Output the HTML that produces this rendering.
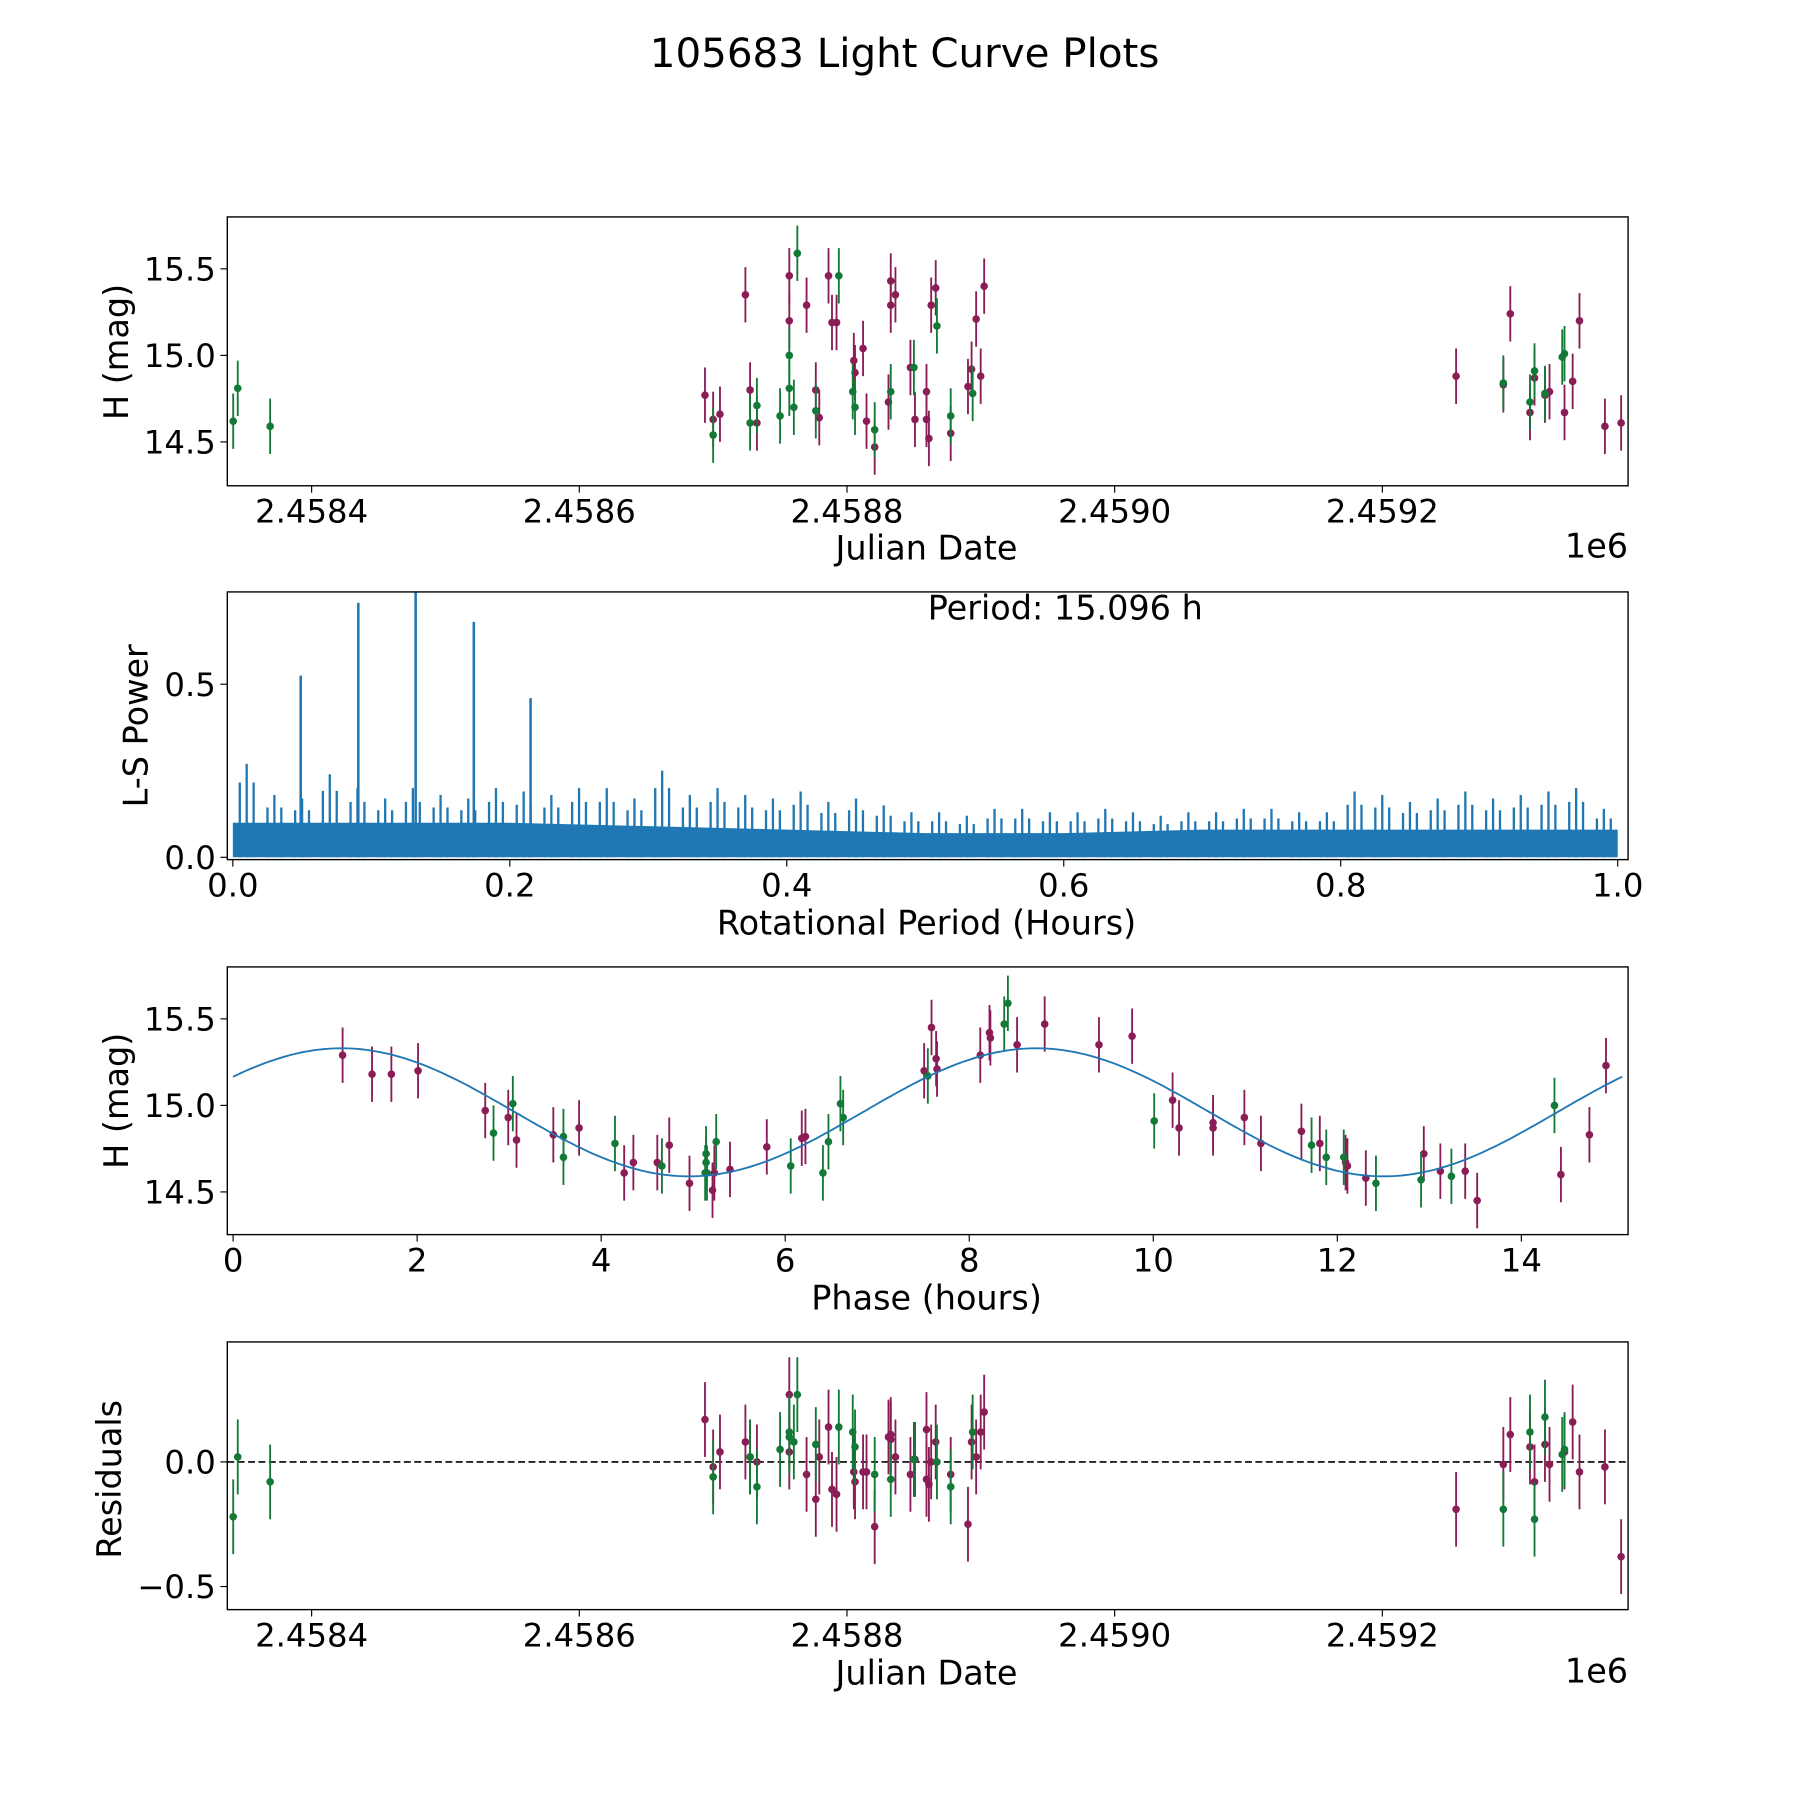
<!DOCTYPE html>
<html><head><meta charset="utf-8"><style>html,body{margin:0;padding:0;background:#fff}svg{display:block}text{font-family:"DejaVu Sans","Liberation Sans",sans-serif;fill:#000}</style></head>
<body>
<svg id="fig" xmlns="http://www.w3.org/2000/svg" width="1800" height="1800" viewBox="0 0 1560 1560">
<rect width="1560" height="1560" fill="#fff"/>
<text x="784" y="58" font-size="35" text-anchor="middle">105683 Light Curve Plots</text>
<g id="p1"></g>
<g id="p2"></g>
<g id="p3"></g>
<g id="p4"></g>
</svg>
<script>
// ---- data ----
const jdGreen=[341.4,344.8,369.0,700.0,727.6,732.7,750.0,756.9,756.9,760.3,762.9,776.7,793.9,804.3,806.0,820.7,832.7,850.0,867.2,877.5,893.9,1290.4,1310.3,1313.7,1321.5,1334.4,1336.1];
const magGreen=[14.62,14.81,14.59,14.54,14.61,14.71,14.65,15.0,14.81,14.70,15.59,14.68,15.46,14.79,14.70,14.57,14.79,14.93,15.17,14.65,14.78,14.84,14.73,14.91,14.78,14.99,15.01];
const resGreen=[-0.22,0.02,-0.08,-0.06,0.02,-0.10,0.05,0.10,0.12,0.08,0.27,0.07,0.14,0.12,0.06,-0.05,-0.07,0.01,0.0,-0.10,0.12,-0.19,0.12,-0.23,0.18,0.03,0.05];
const jdMag=[693.9,700.0,705.1,724.1,727.6,732.7,756.9,756.9,769.8,776.7,779.3,786.2,788.8,792.2,805.1,806.0,812.0,814.6,820.7,831.0,832.7,832.7,836.2,847.4,850.8,859.4,859.4,861.2,862.9,866.3,877.5,890.4,893.1,896.5,899.9,902.5,1255.1,1290.4,1295.6,1310.3,1313.7,1321.5,1324.9,1336.1,1342.2,1347.3,1366.3,1378.4];
const magMag=[14.77,14.63,14.66,15.35,14.80,14.61,15.46,15.20,15.29,14.80,14.64,15.46,15.19,15.19,14.97,14.90,15.04,14.62,14.47,14.73,15.43,15.29,15.35,14.93,14.63,14.79,14.63,14.52,15.29,15.39,14.55,14.82,14.92,15.21,14.88,15.40,14.88,14.83,15.24,14.67,14.87,14.77,14.79,14.67,14.85,15.20,14.59,14.61];
const resMag=[0.17,-0.02,0.04,0.08,0.02,0.0,0.27,0.04,-0.05,-0.15,0.02,0.14,-0.11,-0.13,-0.04,-0.08,-0.04,-0.04,-0.26,0.10,0.09,0.11,0.02,-0.05,0.01,0.13,-0.07,-0.09,0.0,0.08,-0.05,-0.25,0.08,0.02,0.12,0.20,-0.19,-0.01,0.11,0.06,-0.08,0.07,-0.01,0.04,0.16,-0.04,-0.02,-0.38];
const phMag=[1.19,1.51,1.72,2.01,2.74,2.99,3.08,3.48,3.76,4.25,4.35,4.61,4.74,4.96,5.21,5.23,5.40,5.80,6.18,6.22,7.51,7.59,7.64,7.65,8.12,8.22,8.23,8.52,8.82,9.41,9.77,10.21,10.28,10.65,10.65,10.99,11.17,11.61,11.81,12.09,12.11,12.31,12.94,13.12,13.39,13.52,14.43,14.74,14.92];
const phMagVal=[15.29,15.18,15.18,15.20,14.97,14.93,14.80,14.83,14.87,14.61,14.67,14.67,14.77,14.55,14.51,14.61,14.63,14.76,14.81,14.82,15.20,15.45,15.27,15.21,15.29,15.42,15.39,15.35,15.47,15.35,15.40,15.03,14.87,14.90,14.87,14.93,14.78,14.85,14.78,14.67,14.65,14.58,14.72,14.62,14.62,14.45,14.60,14.83,15.23];
const phGreen=[2.83,3.04,3.59,3.59,4.15,4.66,5.13,5.14,5.14,5.15,5.25,6.06,6.41,6.47,6.60,6.63,7.55,8.38,8.42,10.01,11.72,11.88,12.07,12.42,12.91,13.24,14.36];
const phGreenVal=[14.84,15.01,14.82,14.70,14.78,14.65,14.61,14.67,14.72,14.61,14.79,14.65,14.61,14.79,15.01,14.93,15.17,15.47,15.59,14.91,14.77,14.70,14.70,14.55,14.57,14.59,15.00];
const fitMean=14.96, fitAmp=0.37, fitHalfPeriod=7.548, fitPhase0=-0.707;
const lsPeakPeriods=[0.049,0.0906,0.132,0.174,0.215];
const lsPeakPowers=[0.525,0.735,0.78,0.68,0.46];
const lsBinMax=[0.27,0.18,0.17,0.24,0.2,0.17,0.2,0.18,0.17,0.2,0.19,0.18,0.2,0.2,0.17,0.25,0.18,0.2,0.18,0.17,0.19,0.16,0.17,0.15,0.13,0.13,0.12,0.14,0.14,0.13,0.13,0.14,0.13,0.12,0.13,0.13,0.14,0.14,0.13,0.13,0.19,0.18,0.16,0.17,0.19,0.17,0.18,0.19,0.2,0.14];
const lsBand=[0.1,0.1,0.1,0.09,0.08,0.07,0.07,0.08,0.08,0.08,0.08];
const jdTicks=[400,600,800,1000,1200];
const jdTickLabels=["2.4584","2.4586","2.4588","2.4590","2.4592"];
const magTicks=[14.5,15.0,15.5];
const magTickLabels=["14.5","15.0","15.5"];
const lsXTicks=[0,0.2,0.4,0.6,0.8,1.0];
const lsXTickLabels=["0.0","0.2","0.4","0.6","0.8","1.0"];
const lsYTicks=[0,0.5];
const lsYTickLabels=["0.0","0.5"];
const phTicks=[0,2,4,6,8,10,12,14];
const phTickLabels=["0","2","4","6","8","10","12","14"];
const resTicks=[0,-0.5];
const resTickLabels=["0.0","\u22120.5"];
const ERR=0.16, RERR=0.15;
const GREEN="#127a36", MAG="#8a1d56", BLUE="#1f77b4";
// ---- helpers ----
const NS="http://www.w3.org/2000/svg";
function mk(parent,tag,attrs){const e=document.createElementNS(NS,tag);for(const k in attrs)e.setAttribute(k,attrs[k]);parent.appendChild(e);return e;}
const L=197,R=1411;
function lin(d0,d1,r0,r1){return v=>r0+(v-d0)/(d1-d0)*(r1-r0);}
const xJD=lin(337,1383.6,L,R);
const xLS=lin(-0.004,1.0075,L,R);
const xPH=lin(-0.063,15.16,L,R);
const TF=28, LF=29;
function frame(g,top,bot){
  const r=mk(g,'rect',{x:L,y:top,width:R-L,height:bot-top,fill:'none',stroke:'#000','stroke-width':1.2});
  
  
}
function xticks(g,ticks,labels,sx,bot){
  ticks.forEach((t,i)=>{const x=sx(t);
    mk(g,'line',{x1:x,x2:x,y1:bot,y2:bot+6,stroke:'#000','stroke-width':1});
    const tx=mk(g,'text',{x:x,y:bot+32,'font-size':TF,'text-anchor':'middle'});tx.textContent=labels[i];
    
    
  });
}
function yticks(g,ticks,labels,sy){
  ticks.forEach((t,i)=>{const y=sy(t);
    mk(g,'line',{x1:L-6,x2:L,y1:y,y2:y,stroke:'#000','stroke-width':1});
    const tx=mk(g,'text',{x:L-10,y:y+10,'font-size':TF,'text-anchor':'end'});tx.textContent=labels[i];
    
    
  });
}
function label(g,txt,x,y,rot,name){
  const t=mk(g,'text',{x:x,y:y,'font-size':LF,'text-anchor':'middle'});
  if(rot)t.setAttribute('transform','rotate(-90 '+x+' '+y+')');
  t.textContent=txt;
  
  
}
function points(g,xs,ys,err,sx,sy,col,top,bot,name){
  const cg=mk(g,'g',{'clip-path':'url(#c'+top+')'});
  xs.forEach((xv,i)=>{const x=sx(xv),y=sy(ys[i]);
    mk(cg,'line',{x1:x,x2:x,y1:sy(ys[i]-err),y2:sy(ys[i]+err),stroke:col,'stroke-width':1.6});
    const c=mk(cg,'circle',{cx:x,cy:y,r:3.3,fill:col});
    
    
  });
}
const svg=document.getElementById('fig');
const defs=mk(svg,'defs',{});
[[188,421],[513,745],[838,1070],[1163,1395]].forEach(([t,b])=>{const cp=mk(defs,'clipPath',{id:'c'+t});mk(cp,'rect',{x:L,y:t,width:R-L,height:b-t});});
// ---- panel 1 ----
(function(){const g=document.getElementById('p1');const top=188,bot=421;const sy=lin(15.5,14.5,233,383);
  points(g,jdMag,magMag,ERR,xJD,sy,MAG,top,bot,'magenta-point');
  points(g,jdGreen,magGreen,ERR,xJD,sy,GREEN,top,bot,'green-point');
  frame(g,top,bot);xticks(g,jdTicks,jdTickLabels,xJD,bot);yticks(g,magTicks,magTickLabels,sy);
  label(g,'Julian Date',803,485,false,'x-axis-title');label(g,'H (mag)',111,305,true,'y-axis-title');
  const e=mk(g,'text',{x:R,y:483,'font-size':LF,'text-anchor':'end'});e.textContent='1e6';
  
  
})();
// ---- panel 2 ----
(function(){const g=document.getElementById('p2');const top=513,bot=745;const sy=lin(0,0.5,743,593);
  const cg=mk(g,'g',{'clip-path':'url(#c513)'});
  let d='M'+xLS(0)+' '+sy(0);
  lsBand.forEach((v,i)=>{d+=' L'+xLS(i*0.1)+' '+sy(v);});
  d+=' L'+xLS(1)+' '+sy(0)+' Z';
  const band=mk(cg,'path',{d:d,fill:BLUE});
  
  
  lsBinMax.forEach((v,i)=>{
    [0.25,0.5,0.75].forEach((f,j)=>{const x=xLS((i+f)*0.02);const vv=j===1?v:v*0.8;
      const ln=mk(cg,'line',{x1:x,x2:x,y1:sy(0),y2:sy(vv),stroke:BLUE,'stroke-width':2});
      
      });
  });
  lsPeakPeriods.forEach((p,i)=>{const x=xLS(p);
    const ln=mk(cg,'line',{x1:x,x2:x,y1:sy(0),y2:sy(lsPeakPowers[i]),stroke:BLUE,'stroke-width':2.2});
    
    });
  frame(g,top,bot);xticks(g,lsXTicks,lsXTickLabels,xLS,bot);yticks(g,lsYTicks,lsYTickLabels,sy);
  label(g,'Rotational Period (Hours)',803,810,false,'x-axis-title');label(g,'L-S Power',128,629,true,'y-axis-title');
  const t=mk(g,'text',{x:804,y:537,'font-size':LF});t.textContent='Period: 15.096 h';
  
  
})();
// ---- panel 3 ----
(function(){const g=document.getElementById('p3');const top=838,bot=1070;const sy=lin(15.5,14.5,883,1033);
  points(g,phMag,phMagVal,ERR,xPH,sy,MAG,top,bot,'magenta-point');
  points(g,phGreen,phGreenVal,ERR,xPH,sy,GREEN,top,bot,'green-point');
  let d='';for(let k=0;k<=300;k++){const p=15.096*k/300;const v=fitMean+fitAmp*Math.sin(2*Math.PI*(p-fitPhase0)/fitHalfPeriod);d+=(k?' L':'M')+xPH(p).toFixed(1)+' '+sy(v).toFixed(1);}
  const fl=mk(g,'path',{d:d,fill:'none',stroke:BLUE,'stroke-width':1.6,'clip-path':'url(#c838)'});
  
  
  frame(g,top,bot);xticks(g,phTicks,phTickLabels,xPH,bot);yticks(g,magTicks,magTickLabels,sy);
  label(g,'Phase (hours)',803,1135,false,'x-axis-title');label(g,'H (mag)',111,954,true,'y-axis-title');
})();
// ---- panel 4 ----
(function(){const g=document.getElementById('p4');const top=1163,bot=1395;const sy=lin(0,-0.5,1267,1375);
  const dl=mk(g,'line',{x1:L,x2:R,y1:sy(0),y2:sy(0),stroke:'#000','stroke-width':1.4,'stroke-dasharray':'6,3'});
  
  
  points(g,jdMag,resMag,RERR,xJD,sy,MAG,top,bot,'magenta-residual');
  points(g,jdGreen,resGreen,RERR,xJD,sy,GREEN,top,bot,'green-residual');
  frame(g,top,bot);xticks(g,jdTicks,jdTickLabels,xJD,bot);yticks(g,resTicks,resTickLabels,sy);
  label(g,'Julian Date',803,1460,false,'x-axis-title');label(g,'Residuals',105,1282,true,'y-axis-title');
  const e=mk(g,'text',{x:R,y:1458,'font-size':LF,'text-anchor':'end'});e.textContent='1e6';
  
  
})();
</script>
</body></html>
